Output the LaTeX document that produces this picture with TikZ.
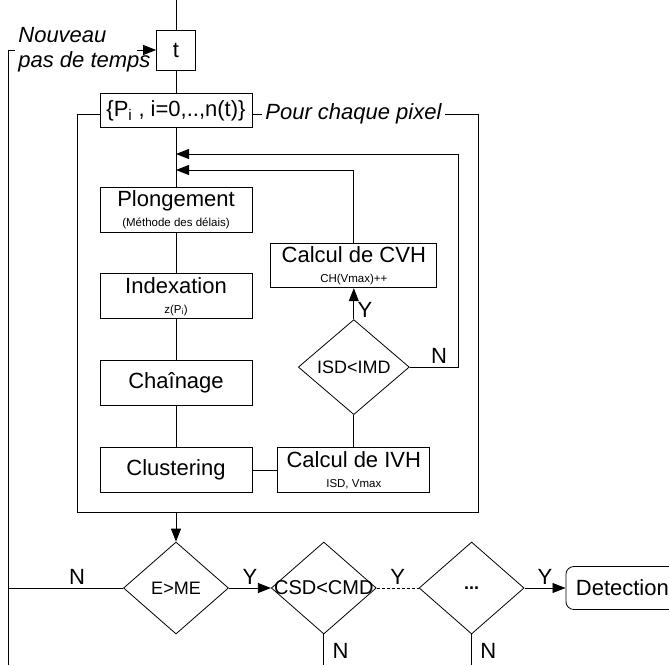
\documentclass[tikz,border=0pt]{standalone}
\usepackage{fontspec}
\setmainfont{Liberation Sans}
\usetikzlibrary{arrows.meta, positioning, shapes.geometric}
\newcommand{\bigsize}{\fontsize{22}{25}\selectfont}
\newcommand{\smallsize}{\fontsize{11.5}{13}\selectfont}
\newcommand{\testsize}{\fontsize{18}{20}\selectfont}
\newcommand{\testtext}[1]{\makebox[0pt]{#1}}

\begin{document}
\begin{tikzpicture}[
			x=1pt, y=-1pt,
			line width=0.8pt,
			node distance=41pt,
			every node/.style={font=\bigsize},
			box/.style={rectangle, draw, fill=white, minimum width=152pt, minimum height=45pt, align=center, inner sep=0pt},
			decision/.style={diamond, draw, fill=white, minimum width=105pt, minimum height=92pt, inner sep=0pt, font=\testsize},
			note/.style={font=\bigsize\itshape, align=left, inner xsep=3pt, inner ysep=0pt},
			arrow/.style={-{Triangle[length=13pt,width=10pt]}}
			]
			\useasboundingbox (0,0) rectangle (669,665);
			\coordinate (top) at (176,0);
			\coordinate (fb) at (8,665);
			\coordinate (tin) at (137,50);
			\coordinate (j1) at (176,154);
			\coordinate (j2) at (176,170);
			
			\node[box, minimum width=39pt, minimum height=40pt] (t) at (176,50) {t};
			\node[note, anchor=west] (nouveau) at (15,50) {Nouveau\\pas de temps};
			\node[draw, minimum width=401pt, minimum height=398pt] (loop) at (277.5,313) {};
			\node[box, minimum height=34pt, below=23pt of t] (pset) {\{P\textsubscript{i} , i=0,..,n(t)\}};
			\node[note, fill=white, anchor=west] (pixel) at (262,114) {Pour chaque pixel};
			
			\node[box] (plong) at (176,209.5) {Plongement\\[-5pt]{\smallsize (Méthode des délais)}};
			\node[box, below=of plong] (index) {Indexation\\[-5pt]{\smallsize z(P\textsubscript{i})}};
			\node[box, below=of index] (chain) {Chaînage};
			\node[box, below=of chain] (clust) {Clustering};
			\node[box, right=25pt of clust] (ivh) {Calcul de IVH\\[-5pt]{\smallsize ISD, Vmax}};
			\node[decision, minimum width=111pt, minimum height=95pt, above=32pt of ivh] (isd) {\testtext{ISD<IMD}};
			\node[box, minimum width=166pt, minimum height=44pt, above=31pt of isd] (cvh) {Calcul de CVH\\[-5pt]{\smallsize CH(Vmax)++}};
			
			\node[decision] (eme) at (176,588) {\testtext{E>ME}};
			\node[decision, right=42pt of eme, font=\fontsize{20}{22}\selectfont] (csd) {\testtext{CSD<CMD}};
			\node[decision, right=42pt of csd] (dots) {\testtext{\textbf{...}}};
			\node[rectangle, draw, rounded corners=8pt, minimum height=43pt, inner xsep=10pt, right=41pt of dots] (detect) {Detection};
			
			\draw (top) -- (t);
			\draw (fb) |- (nouveau.west);
			\draw[arrow] (tin) -- (t);
			\draw (t) -- (pset);
			\draw (pset) -- (plong);
			\draw (plong) -- (index);
			\draw (index) -- (chain);
			\draw (chain) -- (clust);
			\draw (clust) -- (ivh);
			\draw (ivh) -- (isd);
			\draw[arrow] (isd) -- node[right, pos=0.3] {Y} (cvh);
			\draw[arrow] (cvh) |- (j2);
			\draw[arrow] (isd.east) -- node[above, pos=0.6] {N} ++(49,0) |- (j1);
			\draw[arrow] (loop.south -| eme) -- (eme);
			\draw (eme.west) -- node[above, pos=0.4] {N} (eme.west -| fb);
			\draw[arrow] (eme) -- node[above] {Y} (csd);
			\draw[dash pattern=on 3pt off 2pt] (csd) -- node[above] {Y} (dots);
			\draw[arrow] (dots) -- node[above] {Y} (detect);
			\draw (csd.south) -- node[right, xshift=5pt, pos=0.55] {N} (csd.south |- fb);
			\draw (dots.south) -- node[right, xshift=5pt, pos=0.55] {N} (dots.south |- fb);
		\end{tikzpicture}
\end{document}
